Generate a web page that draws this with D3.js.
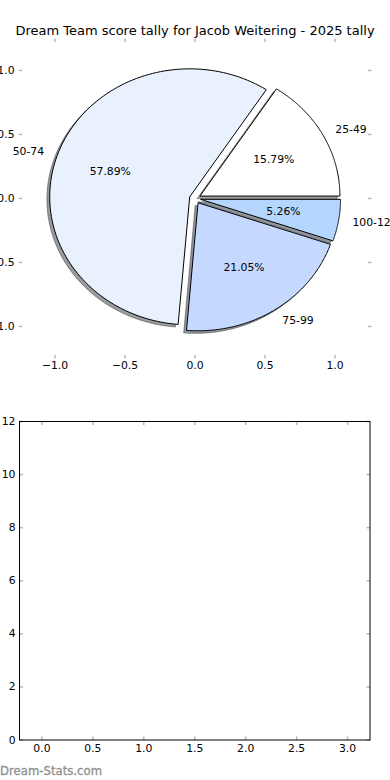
<!DOCTYPE html>
<html>
<head>
<meta charset="utf-8">
<script src="https://cdn.jsdelivr.net/npm/d3@7"></script>
<style>
  html, body { margin: 0; padding: 0; background: #fff; }
  svg { display: block; }
  text { font-family: "DejaVu Sans", sans-serif; }
</style>
</head>
<body>
<svg id="chart" width="390" height="780"></svg>
<script>
// ---- data ----
const title = "Dream Team score tally for Jacob Weitering - 2025 tally";
const categories = ["25-49", "50-74", "75-99", "100-124"];
const counts = [3, 11, 4, 1];
const pctLabels = ["15.79%", "57.89%", "21.05%", "5.26%"];
const colors = ["#ffffff", "#e9f1fe", "#c5d9fe", "#b4d5fe"];
const explode = [0.04, 0.04, 0.04, 0.04];
const pieTicks = [-1.0, -0.5, 0.0, 0.5, 1.0];
const barXTicks = [0.0, 0.5, 1.0, 1.5, 2.0, 2.5, 3.0];
const barYTicks = [0, 2, 4, 6, 8, 10, 12];
const watermark = "Dream-Stats.com";

const svg = d3.select("#chart");
const tickColor = "#b8b8b8";
const FS = 10.8;

// title
svg.append("text").attr("x", 195).attr("y", 34.5).attr("text-anchor", "middle")
  .attr("font-size", 13).attr("fill", "#000").text(title);

// ---- pie axes ----
const px = d3.scaleLinear().domain([-1.26, 1.26]).range([18.6, 371.4]);
const py = d3.scaleLinear().domain([-1.25, 1.25]).range([358.5, 38.5]);

const fmt = d3.format(".1f");
const minus = v => fmt(v).replace("-", "\u2212");

const pieAx = svg.append("g");
pieTicks.forEach(t => {
  pieAx.append("line").attr("x1", px(t)).attr("x2", px(t)).attr("y1", 38.5).attr("y2", 42)
    .attr("stroke", tickColor).attr("stroke-width", 1.5);
  pieAx.append("line").attr("x1", px(t)).attr("x2", px(t)).attr("y1", 358.5).attr("y2", 355)
    .attr("stroke", tickColor).attr("stroke-width", 1.5);
  pieAx.append("line").attr("y1", py(t)).attr("y2", py(t)).attr("x1", 18.6).attr("x2", 22)
    .attr("stroke", tickColor).attr("stroke-width", 1.5);
  pieAx.append("line").attr("y1", py(t)).attr("y2", py(t)).attr("x1", 371.4).attr("x2", 368)
    .attr("stroke", tickColor).attr("stroke-width", 1.5);
  pieAx.append("text").attr("x", px(t)).attr("y", 365).attr("text-anchor", "middle")
    .attr("dominant-baseline", "central").attr("font-size", FS).attr("fill", "#000").text(minus(t));
  pieAx.append("text").attr("x", 14.5).attr("y", py(t)).attr("text-anchor", "end")
    .attr("dominant-baseline", "central").attr("font-size", FS).attr("fill", "#000").text(minus(t));
});

const arcs = d3.pie().sort(null).startAngle(0).endAngle(2 * Math.PI)(counts);

function wedgePath(a, ox, oy) {
  const pts = [[ox, oy]];
  const n = 120;
  for (let i = 0; i <= n; i++) {
    const th = a.startAngle + (a.endAngle - a.startAngle) * i / n;
    pts.push([ox + Math.cos(th), oy + Math.sin(th)]);
  }
  return d3.line().x(d => px(d[0])).y(d => py(d[1]))(pts) + "Z";
}

const wedges = arcs.map((a, i) => {
  const mid = (a.startAngle + a.endAngle) / 2;
  return { a, i, mid, ox: explode[i] * Math.cos(mid), oy: explode[i] * Math.sin(mid) };
});

wedges.forEach(w => {
  const c = d3.rgb(colors[w.i]);
  const sc = d3.rgb(c.r * 0.3, c.g * 0.3, c.b * 0.3);
  svg.append("path").attr("d", wedgePath(w.a, w.ox - 0.02, w.oy - 0.02))
    .attr("fill", sc).attr("fill-opacity", 0.55).attr("stroke", sc).attr("stroke-opacity", 0.55)
    .attr("stroke-width", 1);
});
wedges.forEach(w => {
  svg.append("path").attr("d", wedgePath(w.a, w.ox, w.oy))
    .attr("fill", colors[w.i]).attr("stroke", "#000").attr("stroke-width", 1)
    .attr("stroke-linejoin", "miter");
});
wedges.forEach(w => {
  const lx = w.ox + 1.1 * Math.cos(w.mid), ly = w.oy + 1.1 * Math.sin(w.mid);
  svg.append("text").attr("x", px(lx)).attr("y", py(ly))
    .attr("text-anchor", lx > 0 ? "start" : "end").attr("dominant-baseline", "central")
    .attr("font-size", FS).attr("fill", "#000").text(categories[w.i]);
  const tx = w.ox + 0.6 * Math.cos(w.mid), ty = w.oy + 0.6 * Math.sin(w.mid);
  svg.append("text").attr("x", px(tx)).attr("y", py(ty))
    .attr("text-anchor", "middle").attr("dominant-baseline", "central")
    .attr("font-size", FS).attr("fill", "#000").text(pctLabels[w.i]);
});

// ---- bottom (empty) axes ----
const L = 19.5, R = 370, T = 421.5, B = 740;
const bx = d3.scaleLinear().domain([-0.22, 3.22]).range([L, R]);
const by = d3.scaleLinear().domain([0, 12]).range([B, T]);
const g2 = svg.append("g");
barXTicks.forEach(t => {
  g2.append("line").attr("x1", bx(t)).attr("x2", bx(t)).attr("y1", B).attr("y2", B - 3.5)
    .attr("stroke", tickColor).attr("stroke-width", 1.5);
  g2.append("line").attr("x1", bx(t)).attr("x2", bx(t)).attr("y1", T).attr("y2", T + 3.5)
    .attr("stroke", tickColor).attr("stroke-width", 1.5);
  g2.append("text").attr("x", bx(t)).attr("y", 748.5).attr("text-anchor", "middle")
    .attr("dominant-baseline", "central").attr("font-size", FS).attr("fill", "#000").text(fmt(t));
});
barYTicks.forEach(t => {
  g2.append("line").attr("y1", by(t)).attr("y2", by(t)).attr("x1", L).attr("x2", L + 3.5)
    .attr("stroke", tickColor).attr("stroke-width", 1.5);
  g2.append("line").attr("y1", by(t)).attr("y2", by(t)).attr("x1", R).attr("x2", R - 3.5)
    .attr("stroke", tickColor).attr("stroke-width", 1.5);
  g2.append("text").attr("x", 15.5).attr("y", by(t)).attr("text-anchor", "end")
    .attr("dominant-baseline", "central").attr("font-size", FS).attr("fill", "#000").text(t);
});
g2.append("rect").attr("x", L).attr("y", T).attr("width", R - L).attr("height", B - T)
  .attr("fill", "none").attr("stroke", "#000").attr("stroke-width", 1);

// watermark
svg.append("text").attr("x", 0).attr("y", 774.5).attr("font-size", 11.7)
  .attr("fill", "#8f8f8f").attr("stroke", "#8f8f8f").attr("stroke-width", 0.3).text(watermark);
</script>
</body>
</html>
